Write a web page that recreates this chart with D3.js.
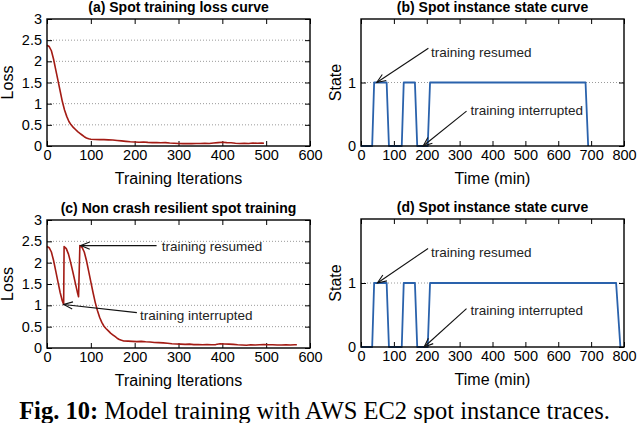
<!DOCTYPE html>
<html>
<head>
<meta charset="utf-8">
<script src="https://cdn.jsdelivr.net/npm/d3@7"></script>
<style>
    body { margin: 0; background: #fff; }
    svg { display: block; font-family: 'Liberation Sans', Arial, sans-serif; }
</style>
</head>
<body>
<svg id="chart" width="640" height="423"></svg>
<script>
// (a) loss of one uninterrupted spot training run
const itersA = [0, 5, 10, 15, 20, 25, 30, 35, 40, 45, 50, 55, 60, 65, 70, 75, 80, 85, 90, 95,
    100, 110, 120, 130, 140, 150, 160, 170, 180, 190, 200, 210, 220, 230, 240, 250, 260, 270, 280, 290,
    300, 310, 320, 330, 340, 350, 360, 370, 380, 390, 400, 410, 420, 430, 440, 450, 460, 470, 480, 490, 495];
const lossA = [2.38, 2.35, 2.25, 2.05, 1.80, 1.55, 1.30, 1.05, 0.85, 0.70, 0.58, 0.50, 0.44, 0.39, 0.34, 0.30, 0.26, 0.22, 0.19, 0.17,
    0.16, 0.155, 0.15, 0.15, 0.145, 0.14, 0.13, 0.12, 0.11, 0.10, 0.095, 0.09, 0.095, 0.085, 0.08, 0.08, 0.075, 0.08, 0.07, 0.065,
    0.06, 0.055, 0.06, 0.055, 0.06, 0.06, 0.065, 0.06, 0.07, 0.08, 0.09, 0.08, 0.075, 0.065, 0.06, 0.065, 0.06, 0.07, 0.065, 0.07, 0.065];

// (c) loss when each interruption restarts training from scratch
const itersC = [0, 5, 10, 15, 20, 25, 30, 35, 38,
    39, 44, 49, 54, 59, 64, 69, 72,
    75, 80, 85, 90, 95, 100, 105, 110, 115, 120, 125, 130, 135, 140, 145, 150, 155, 160, 165, 170, 175,
    185, 195, 205, 215, 225, 235, 245, 255, 265, 275, 285, 295, 305, 315, 325, 335, 345, 355, 365, 375,
    385, 395, 405, 415, 425, 435, 445, 455, 465, 475, 485, 495, 505, 515, 525, 535, 545, 555, 565, 570];
const lossC = [2.38, 2.35, 2.25, 2.05, 1.80, 1.55, 1.30, 1.10, 1.02,
    2.38, 2.33, 2.20, 2.00, 1.78, 1.55, 1.32, 1.20,
    2.40, 2.36, 2.25, 2.05, 1.80, 1.55, 1.30, 1.07, 0.88, 0.72, 0.60, 0.51, 0.45, 0.40, 0.35, 0.31, 0.27, 0.23, 0.20, 0.18, 0.165,
    0.16, 0.155, 0.15, 0.155, 0.145, 0.14, 0.13, 0.125, 0.12, 0.11, 0.10, 0.095, 0.09, 0.085, 0.09, 0.08, 0.08, 0.075, 0.08, 0.075,
    0.08, 0.10, 0.095, 0.09, 0.085, 0.075, 0.07, 0.065, 0.075, 0.07, 0.075, 0.08, 0.075, 0.075, 0.07, 0.07, 0.075, 0.07, 0.075, 0.075];

// (b), (d) spot instance state traces (1 = running, 0 = interrupted)
const timeB = [0, 34, 40, 78, 85, 124, 130, 164, 171, 203, 210, 683, 691];
const stateB = [0, 0, 1, 1, 0, 0, 1, 1, 0, 0, 1, 1, 0];
const timeD = [0, 34, 40, 78, 85, 124, 130, 164, 171, 203, 210, 776, 789];
const stateD = [0, 0, 1, 1, 0, 0, 1, 1, 0, 0, 1, 1, 0];

const iterTicks = [0, 100, 200, 300, 400, 500, 600];
const lossTicks = [0, 0.5, 1, 1.5, 2, 2.5, 3];
const lossGrid = [0.5, 1, 1.5, 2, 2.5];
const timeTicks = [0, 100, 200, 300, 400, 500, 600, 700, 800];
const stateTicks = [0, 1];
const stateGrid = [1];

const svg = d3.select('#chart');

const defs = svg.append('defs');
defs.append('marker')
    .attr('id', 'head')
    .attr('viewBox', '-10 -5 12 10')
    .attr('refX', 0)
    .attr('refY', 0)
    .attr('markerWidth', 12)
    .attr('markerHeight', 10)
    .attr('markerUnits', 'userSpaceOnUse')
    .attr('orient', 'auto')
    .append('path')
    .attr('d', 'M-9,-3.6L0,0L-9,3.6')
    .attr('fill', 'none')
    .attr('stroke', '#111')
    .attr('stroke-width', 1.1);

function drawPanel({left, top, width, height, title, xLabel, yLabel, xDomain, yDomain,
                    xTicks, yTicks, grid, xs, ys, color, lineWidth, notes}) {
    const x = d3.scaleLinear().domain(xDomain).range([0, width]);
    const y = d3.scaleLinear().domain(yDomain).range([height, 0]);

    const g = svg.append('g').attr('transform', `translate(${left},${top})`);

    // dotted horizontal grid
    g.selectAll('.grid')
        .data(grid)
        .enter().append('line')
        .attr('x1', 0).attr('x2', width)
        .attr('y1', d => y(d)).attr('y2', d => y(d))
        .attr('stroke', '#9a9a9a')
        .attr('stroke-width', 1)
        .attr('stroke-dasharray', '1,2');

    const fmt = d => String(d);

    const styleAxis = sel => {
        sel.select('.domain').remove();
        sel.selectAll('line').attr('stroke', '#000').attr('stroke-width', 1);
        sel.selectAll('text').attr('font-size', 14.5).attr('fill', '#000').attr('font-family', null);
    };

    g.append('g')
        .attr('transform', `translate(0,${height})`)
        .call(d3.axisBottom(x).tickValues(xTicks).tickFormat(fmt).tickSizeInner(-5).tickSizeOuter(0).tickPadding(4))
        .call(styleAxis);
    g.append('g')
        .call(d3.axisTop(x).tickValues(xTicks).tickFormat('').tickSizeInner(-5).tickSizeOuter(0))
        .call(styleAxis);
    g.append('g')
        .call(d3.axisLeft(y).tickValues(yTicks).tickFormat(fmt).tickSizeInner(-5).tickSizeOuter(0).tickPadding(5))
        .call(styleAxis);
    g.append('g')
        .attr('transform', `translate(${width},0)`)
        .call(d3.axisRight(y).tickValues(yTicks).tickFormat('').tickSizeInner(-5).tickSizeOuter(0))
        .call(styleAxis);

    const line = d3.line()
        .x(i => x(xs[i]))
        .y(i => y(ys[i]));

    g.append('path')
        .datum(d3.range(xs.length))
        .attr('d', line)
        .attr('fill', 'none')
        .attr('stroke', color)
        .attr('stroke-width', lineWidth)
        .attr('stroke-linejoin', 'round');

    // frame
    g.append('rect')
        .attr('width', width)
        .attr('height', height)
        .attr('fill', 'none')
        .attr('stroke', '#000')
        .attr('stroke-width', 1.4);

    notes.forEach(n => {
        g.append('line')
            .attr('x1', x(n.from[0])).attr('y1', y(n.from[1]))
            .attr('x2', x(n.to[0])).attr('y2', y(n.to[1]))
            .attr('stroke', '#111')
            .attr('stroke-width', 1.1)
            .attr('marker-end', 'url(#head)');
        g.append('text')
            .attr('x', x(n.at[0]))
            .attr('y', y(n.at[1]))
            .attr('dy', '0.35em')
            .attr('font-size', 13.5)
            .attr('fill', '#222')
            .text(n.text);
    });

    g.append('text')
        .attr('x', width / 2)
        .attr('y', -7)
        .attr('text-anchor', 'middle')
        .attr('font-size', 14)
        .attr('font-weight', 'bold')
        .text(title);

    g.append('text')
        .attr('x', width / 2)
        .attr('y', height + 38)
        .attr('text-anchor', 'middle')
        .attr('font-size', 16)
        .text(xLabel);

    g.append('text')
        .attr('transform', `translate(${yLabel.offset},${height / 2})rotate(-90)`)
        .attr('text-anchor', 'middle')
        .attr('font-size', 16)
        .text(yLabel.text);
}

const red = '#a31b14';
const blue = '#2a62ac';

drawPanel({
    left: 47, top: 19, width: 263, height: 127,
    title: '(a) Spot training loss curve',
    xLabel: 'Training Iterations',
    yLabel: {text: 'Loss', offset: -34},
    xDomain: [0, 600], yDomain: [0, 3],
    xTicks: iterTicks, yTicks: lossTicks, grid: lossGrid,
    xs: itersA, ys: lossA, color: red, lineWidth: 1.6,
    notes: []
});

drawPanel({
    left: 361, top: 19, width: 263, height: 127,
    title: '(b) Spot instance state curve',
    xLabel: 'Time (min)',
    yLabel: {text: 'State', offset: -20},
    xDomain: [0, 800], yDomain: [0, 2],
    xTicks: timeTicks, yTicks: stateTicks, grid: stateGrid,
    xs: timeB, ys: stateB, color: blue, lineWidth: 1.8,
    notes: [
        {text: 'training resumed', at: [213, 1.48], from: [205, 1.54], to: [48, 1.0]},
        {text: 'training interrupted', at: [333, 0.57], from: [321, 0.55], to: [189, 0]}
    ]
});

drawPanel({
    left: 47, top: 220, width: 263, height: 128,
    title: '(c) Non crash resilient spot training',
    xLabel: 'Training Iterations',
    yLabel: {text: 'Loss', offset: -34},
    xDomain: [0, 600], yDomain: [0, 3],
    xTicks: iterTicks, yTicks: lossTicks, grid: lossGrid,
    xs: itersC, ys: lossC, color: red, lineWidth: 1.6,
    notes: [
        {text: 'training resumed', at: [262, 2.38], from: [250, 2.4], to: [77, 2.4]},
        {text: 'training interrupted', at: [212, 0.77], from: [205, 0.83], to: [38, 1.02]}
    ]
});

drawPanel({
    left: 361, top: 219, width: 263, height: 128,
    title: '(d) Spot instance state curve',
    xLabel: 'Time (min)',
    yLabel: {text: 'State', offset: -20},
    xDomain: [0, 800], yDomain: [0, 2],
    xTicks: timeTicks, yTicks: stateTicks, grid: stateGrid,
    xs: timeD, ys: stateD, color: blue, lineWidth: 1.8,
    notes: [
        {text: 'training resumed', at: [213, 1.48], from: [204, 1.54], to: [50, 1.0]},
        {text: 'training interrupted', at: [333, 0.575], from: [321, 0.6], to: [192, 0]}
    ]
});

// caption
const caption = svg.append('text')
    .attr('x', 314.5)
    .attr('y', 419)
    .attr('text-anchor', 'middle')
    .attr('font-family', "'Liberation Serif', 'Times New Roman', serif")
    .attr('font-size', 24.5)
    .attr('fill', '#000');
caption.append('tspan').attr('font-weight', 'bold').text('Fig. 10:');
caption.append('tspan').text(' Model training with AWS EC2 spot instance traces.');
</script>
</body>
</html>
